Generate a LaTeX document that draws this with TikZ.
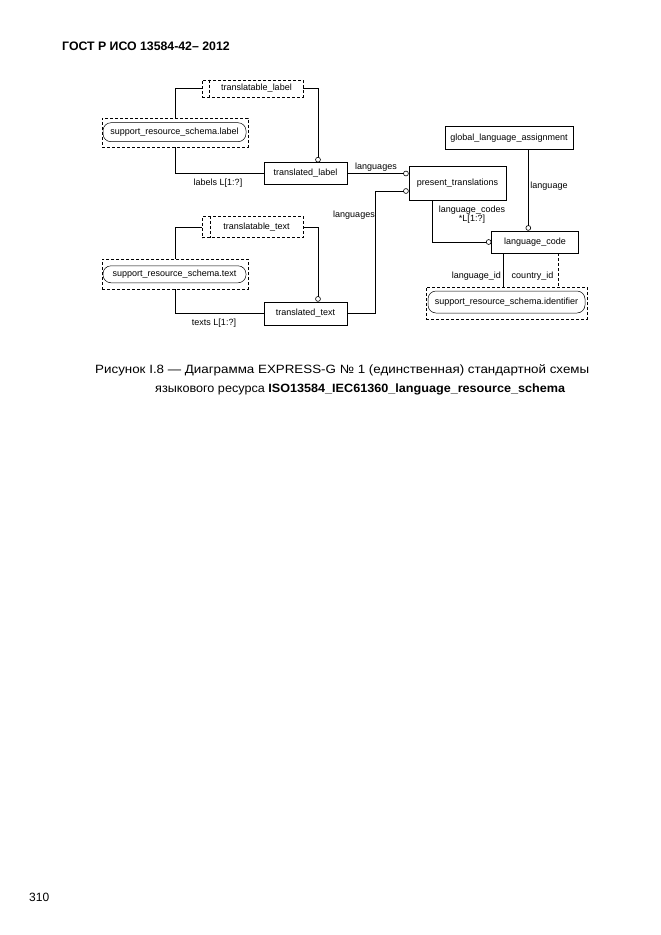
\documentclass[tikz,border=0pt]{standalone}
\usepackage{fontspec}
\setmainfont{Liberation Sans}
\usetikzlibrary{arrows.meta}
\newcommand\dfont{\fontsize{9}{10}\selectfont}
\tikzset{
  ent/.style={draw, line width=0.6pt, inner sep=0pt, font=\dfont},
  dbox/.style={draw, dashed, line width=0.6pt, inner sep=0pt, dash pattern=on 3pt off 2pt},
  tbox/.style={draw, line width=0.5pt, rounded corners=8pt, inner sep=0pt, font=\dfont},
  conn/.style={line width=0.6pt},
  ocirc/.style={-{Circle[open,length=5.5pt,width=5.5pt,line width=0.6pt]}},
  lbl/.style={inner sep=0pt, font=\dfont},
  captxt/.style={anchor=west, inner sep=0pt, font=\fontsize{12}{14}\selectfont},
}
\begin{document}
\begin{tikzpicture}[x=1pt,y=-1pt]
\useasboundingbox (0,0) rectangle (661,935);

% header, caption, page number
\node[anchor=west, inner sep=0pt, font=\bfseries\fontsize{12.3}{14}\selectfont] (hdr) at (62,46) {ГОСТ Р ИСО 13584-42– 2012};
\node[captxt] (cap1) at (95,370) {\resizebox{494pt}{\height}{Рисунок I.8 — Диаграмма EXPRESS-G № 1 (единственная) стандартной схемы}};
\node[captxt] (cap2) at (155,389) {\resizebox{410pt}{\height}{языкового ресурса \textbf{ISO13584\_IEC61360\_language\_resource\_schema}}};
\node[anchor=west, inner sep=0pt, font=\fontsize{12}{14}\selectfont] (pnum) at (29,897) {310};

% upper branch
\node[dbox, minimum width=101pt, minimum height=17pt, font=\dfont] (tl) at (252.5,88.5) {\hspace*{8pt}translatable\_label};
\draw[dbox] ([xshift=8pt]tl.north west) -- ([xshift=8pt]tl.south west);
\node[dbox, minimum width=146pt, minimum height=29pt] (srlo) at (175,132.5) {};
\node[tbox, minimum width=143pt, minimum height=19pt] (srl) at (174.5,132.2) {support\_resource\_schema.label};
\node[ent, minimum width=83pt, minimum height=21.5pt] (tlab) at (305.5,173.5) {translated\_label};

% lower branch
\node[dbox, minimum width=101pt, minimum height=21.5pt, font=\dfont] (tt) at (252.5,227) {\hspace*{8pt}translatable\_text};
\draw[dbox] ([xshift=8.5pt]tt.north west) -- ([xshift=8.5pt]tt.south west);
\node[dbox, minimum width=146pt, minimum height=30pt] (srto) at (175,274) {};
\node[tbox, minimum width=143pt, minimum height=17pt] (srt) at (174.5,274.3) {support\_resource\_schema.text};
\node[ent, minimum width=83pt, minimum height=23pt] (ttext) at (305.5,313.5) {translated\_text};

% right part
\node[ent, minimum width=97pt, minimum height=34pt] (pt) at (457.5,183) {present\_translations};
\node[ent, minimum width=128pt, minimum height=22.5pt] (gla) at (509,138) {global\_language\_assignment};
\node[ent, minimum width=86.5pt, minimum height=22pt] (lc) at (535,242) {language\_code};
\node[dbox, minimum width=161pt, minimum height=32pt] (ido) at (506.5,303) {};
\node[tbox, minimum width=157pt, minimum height=22pt] (id) at (506.5,302) {support\_resource\_schema.identifier};

% connectors upper
\draw[conn] (tl.west) -| (srlo.north);
\draw[conn] (srlo.south) |- (tlab.west);
\draw[conn, ocirc] (tl.east) -| ([xshift=12.5pt]tlab.north);
\draw[conn, ocirc] (tlab.east) -- (tlab.east -| pt.west);

% connectors lower
\draw[conn] (tt.west) -| (srto.north);
\draw[conn] (srto.south) |- (ttext.west);
\draw[conn, ocirc] (tt.east) -| ([xshift=12.5pt]ttext.north);
\coordinate (cA) at (375,191);
\draw[conn, ocirc] (ttext.east) -| (cA) -- (cA -| pt.west);

% connectors right
\draw[conn, ocirc] ([xshift=-25.5pt]pt.south) |- (lc.west);
\draw[conn, ocirc] ([xshift=19.3pt]gla.south) -- ([xshift=19.3pt]gla.south |- lc.north);
\draw[conn] ([xshift=-31.7pt]lc.south) -- ([xshift=-31.7pt]lc.south |- ido.north);
\draw[conn, dashed, dash pattern=on 3pt off 2pt] ([xshift=23.3pt]lc.south) -- ([xshift=23.3pt]lc.south |- ido.north);

% labels
\node[lbl] (l1) at (218,183.5) {labels L[1:?]};
\node[lbl] (l2) at (214,323.5) {texts L[1:?]};
\node[lbl] (l3) at (376,167) {languages};
\node[lbl] (l4) at (354,215) {languages};
\node[lbl, align=center, font=\fontsize{9}{9.5}\selectfont] (l5) at (472,214.5) {language\_codes\\*L[1:?]};
\node[lbl] (l6) at (549,186) {language};
\node[lbl, anchor=east] (l7) at (501,276) {language\_id};
\node[lbl] (l8) at (532.5,276) {country\_id};
\end{tikzpicture}
\end{document}
